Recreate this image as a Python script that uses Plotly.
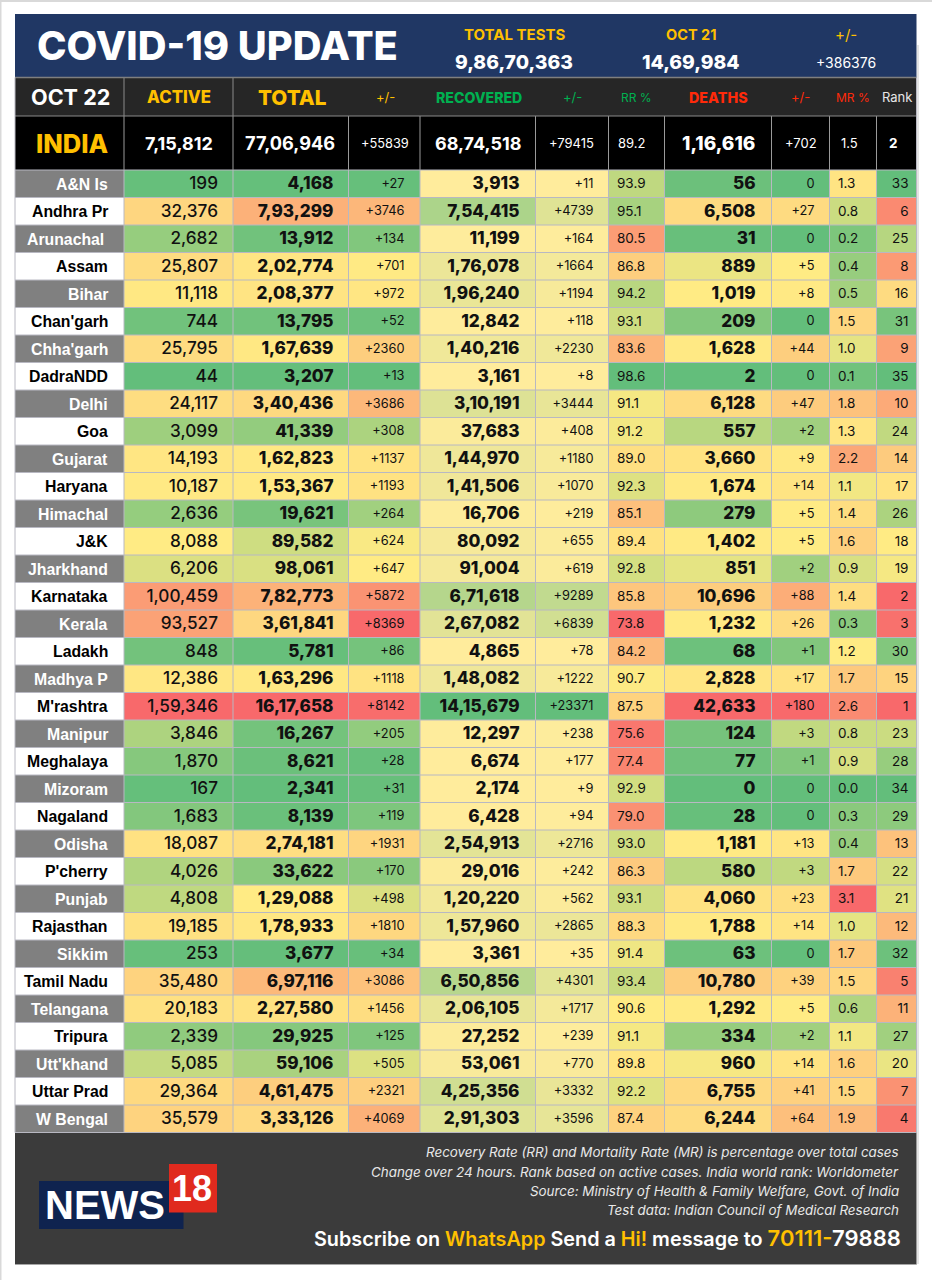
import plotly.graph_objects as go
import statistics as s

states = ["A&N Is", "Andhra Pr", "Arunachal", "Assam", "Bihar", "Chan'garh", "Chha'garh", "DadraNDD", "Delhi", "Goa",
          "Gujarat", "Haryana", "Himachal", "J&K", "Jharkhand", "Karnataka", "Kerala", "Ladakh", "Madhya P", "M'rashtra",
          "Manipur", "Meghalaya", "Mizoram", "Nagaland", "Odisha", "P'cherry", "Punjab", "Rajasthan", "Sikkim",
          "Tamil Nadu", "Telangana", "Tripura", "Utt'khand", "Uttar Prad", "W Bengal"]
active = [199, 32376, 2682, 25807, 11118, 744, 25795, 44, 24117, 3099, 14193, 10187, 2636, 8088, 6206, 100459, 93527, 848,
          12386, 159346, 3846, 1870, 167, 1683, 18087, 4026, 4808, 19185, 253, 35480, 20183, 2339, 5085, 29364, 35579]
total = [4168, 793299, 13912, 202774, 208377, 13795, 167639, 3207, 340436, 41339, 162823, 153367, 19621, 89582, 98061,
         782773, 361841, 5781, 163296, 1617658, 16267, 8621, 2341, 8139, 274181, 33622, 129088, 178933, 3677, 697116,
         227580, 29925, 59106, 461475, 333126]
total_chg = [27, 3746, 134, 701, 972, 52, 2360, 13, 3686, 308, 1137, 1193, 264, 624, 647, 5872, 8369, 86, 1118, 8142, 205,
             28, 31, 119, 1931, 170, 498, 1810, 34, 3086, 1456, 125, 505, 2321, 4069]
recovered = [3913, 754415, 11199, 176078, 196240, 12842, 140216, 3161, 310191, 37683, 144970, 141506, 16706, 80092, 91004,
             671618, 267082, 4865, 148082, 1415679, 12297, 6674, 2174, 6428, 254913, 29016, 120220, 157960, 3361, 650856,
             206105, 27252, 53061, 425356, 291303]
recovered_chg = [11, 4739, 164, 1664, 1194, 118, 2230, 8, 3444, 408, 1180, 1070, 219, 655, 619, 9289, 6839, 78, 1222, 23371,
                 238, 177, 9, 94, 2716, 242, 562, 2865, 35, 4301, 1717, 239, 770, 3332, 3596]
rr = [93.9, 95.1, 80.5, 86.8, 94.2, 93.1, 83.6, 98.6, 91.1, 91.2, 89.0, 92.3, 85.1, 89.4, 92.8, 85.8, 73.8, 84.2, 90.7, 87.5,
      75.6, 77.4, 92.9, 79.0, 93.0, 86.3, 93.1, 88.3, 91.4, 93.4, 90.6, 91.1, 89.8, 92.2, 87.4]
deaths = [56, 6508, 31, 889, 1019, 209, 1628, 2, 6128, 557, 3660, 1674, 279, 1402, 851, 10696, 1232, 68, 2828, 42633, 124,
          77, 0, 28, 1181, 580, 4060, 1788, 63, 10780, 1292, 334, 960, 6755, 6244]
deaths_chg = [0, 27, 0, 5, 8, 0, 44, 0, 47, 2, 9, 14, 5, 5, 2, 88, 26, 1, 17, 180, 3, 1, 0, 0, 13, 3, 23, 14, 0, 39, 5, 2,
              14, 41, 64]
mr = [1.3, 0.8, 0.2, 0.4, 0.5, 1.5, 1.0, 0.1, 1.8, 1.3, 2.2, 1.1, 1.4, 1.6, 0.9, 1.4, 0.3, 1.2, 1.7, 2.6, 0.8, 0.9, 0.0,
      0.3, 0.4, 1.7, 3.1, 1.0, 1.7, 1.5, 0.6, 1.1, 1.6, 1.5, 1.9]
rank = [33, 6, 25, 8, 16, 31, 9, 35, 10, 24, 14, 17, 26, 18, 19, 2, 3, 30, 15, 1, 23, 28, 34, 29, 13, 22, 21, 12, 32, 5, 11,
        27, 20, 7, 4]

india_row = ["7,15,812", "77,06,946", "+55839", "68,74,518", "+79415", "89.2", "1,16,616", "+702", "1.5", "2"]
tests_labels = ["TOTAL TESTS", "OCT 21", "+/-"]
tests_values = ["9,86,70,363", "14,69,984", "+386376"]
header_labels = ["ACTIVE", "TOTAL", "+/-", "RECOVERED", "+/-", "RR %", "DEATHS", "+/-", "MR %", "Rank"]
notes = ["Recovery Rate (RR) and Mortality Rate (MR) is percentage over total cases",
         "Change over 24 hours. Rank based on active cases. India world rank: Worldometer",
         "Source: Ministry of Health & Family Welfare, Govt. of India",
         "Test data: Indian Council of Medical Research"]

GREEN, YELLOW, RED = "#63BE7B", "#FFEB84", "#F8696B"
PALE = "#FFEC9C"
NUM_FONT = "Inter"
edges = [124, 233, 348.5, 420, 535.5, 608.5, 664.5, 771.5, 829.5, 876.5, 916.5]
LEFT, TOP, RIGHT = 15, 14, 916.5
HEAD1, HEAD2, HEAD3, BOTTOM, FOOT = 77.5, 116, 170, 1132.5, 1264.5
row_h = (BOTTOM - HEAD3) / len(states)
row_edges = [HEAD3 + i * row_h for i in range(len(states) + 1)]
row_mid = [HEAD3 + (i + 0.5) * row_h for i in range(len(states))]
text_y = [y + 1 for y in row_mid]


def lakh(n):
    t = str(n)
    if len(t) <= 3:
        return t
    head, tail = t[:-3], t[-3:]
    parts = []
    while len(head) > 2:
        parts.insert(0, head[-2:])
        head = head[:-2]
    if head:
        parts.insert(0, head)
    return ",".join(parts) + "," + tail


def plus(n):
    return "+" + str(n)


def zero_plus(n):
    return "0" if n == 0 else "+" + str(n)


def one(v):
    return "%.1f" % v


def plain(v):
    return str(v)


# values, formatter, scale kind, anchor x, text side, size, weight
columns = [
    (active, lakh, "hi_red", 218, "middle left", 17.2, 500),
    (total, lakh, "hi_red", 333.5, "middle left", 17.2, 800),
    (total_chg, plus, "hi_red", 404.5, "middle left", 12.8, 400),
    (recovered, lakh, "hi_green", 519.5, "middle left", 17.2, 800),
    (recovered_chg, plus, "hi_green", 593.5, "middle left", 12.8, 400),
    (rr, one, "lo_red", 617, "middle right", 13.5, 400),
    (deaths, lakh, "hi_red", 755.5, "middle left", 17.2, 800),
    (deaths_chg, zero_plus, "hi_red", 814.5, "middle left", 12.8, 400),
    (mr, one, "hi_red", 838, "middle right", 13.5, 400),
    (rank, plain, "rank", 908.5, "middle left", 13.5, 400),
]

fig = go.Figure()

for i, col in enumerate(columns):
    vals, fmt, kind = col[0], col[1], col[2]
    lo, hi = min(vals), max(vals)
    if kind == "rank":
        # the ends of the rank scale sit just inside the extremes
        lo, hi = 2, 33
    mid = (s.median(vals) - lo) / (hi - lo)
    if kind == "hi_red":
        scale = [[0, GREEN], [mid, YELLOW], [1, RED]]
    elif kind in ("lo_red", "rank"):
        scale = [[0, RED], [mid, YELLOW], [1, GREEN]]
    else:
        scale = [[0, PALE], [1, GREEN]]
    fig.add_trace(go.Heatmap(z=[[v] for v in vals], x=[edges[i], edges[i + 1]], y=row_edges, colorscale=scale,
                             zmin=lo, zmax=hi, showscale=False, hoverinfo="skip"))

for col in columns:
    vals, fmt, x, side, size, weight = col[0], col[1], col[3], col[4], col[5], col[6]
    fig.add_trace(go.Scatter(x=[x] * len(vals), y=text_y, mode="text", text=[fmt(v) for v in vals], textposition=side,
                             textfont=dict(family=NUM_FONT, size=size, color="#111111", weight=weight),
                             hoverinfo="skip", showlegend=False))

shapes = []


def box(x0, y0, x1, y1, color):
    shapes.append(dict(type="rect", x0=x0, y0=y0, x1=x1, y1=y1, fillcolor=color, line_width=0, layer="below"))


def rule(x0, y0, x1, y1, color, w=1):
    shapes.append(dict(type="line", x0=x0, y0=y0, x1=x1, y1=y1, line=dict(color=color, width=w), layer="above"))


# page edge
box(0, 0, 932, 2, "#D9D9D9")
box(0, 0, 1.5, 1280, "#D9D9D9")
box(917, 45, 919, 1264, "#E4E4E4")

# header bands
box(LEFT, TOP, RIGHT, HEAD1, "#203764")
box(LEFT, HEAD1, RIGHT, HEAD2, "#262626")
box(LEFT, HEAD2, RIGHT, HEAD3, "#000000")
box(LEFT, BOTTOM, RIGHT, FOOT, "#3B3B3B")

# state label column
for i in range(len(states)):
    box(LEFT, row_edges[i], edges[0], row_edges[i + 1], "#808080" if i % 2 == 0 else "#FFFFFF")

# grid
GRID = "#B8B8C2"
for y in row_edges:
    rule(LEFT, y, RIGHT, y, GRID)
for x in edges[:-1]:
    rule(x, HEAD3, x, BOTTOM, GRID)
    rule(x, HEAD2, x, HEAD3, "#9A9A9A")
rule(edges[0], HEAD1, edges[0], HEAD2, "#8A8A8A")
rule(edges[1], HEAD1, edges[1], HEAD2, "#8A8A8A")
rule(LEFT, HEAD1, RIGHT, HEAD1, "#7F7F7F", 1.5)
rule(LEFT, HEAD2, RIGHT, HEAD2, "#8A8A8A", 1)
rule(RIGHT, HEAD1, RIGHT, BOTTOM, GRID)
rule(LEFT, HEAD1, LEFT, BOTTOM, GRID)
rule(LEFT, FOOT, RIGHT, FOOT, "#A6A6A6", 1)

# logo
box(39, 1181, 183.5, 1229, "#0F234F")
box(169, 1164, 217, 1212.5, "#E02A1E")

anns = []


def label(x, y, text, size, color, anchor="center", weight=400, family=NUM_FONT, italic=False):
    anns.append(dict(x=x, y=y, xref="x", yref="y", text=text, showarrow=False, xanchor=anchor, yanchor="middle",
                     font=dict(family=family, size=size, color=color, weight=weight,
                               style="italic" if italic else "normal")))


GOLD = "#FFC000"
GRN = "#00B050"
REDH = "#FF2A0A"
label(217, 45, "COVID-19 UPDATE", 39.8, "#FFFFFF", weight=800)
for x, t, v, ls, sz, w in zip([514, 691, 845.5], tests_labels, tests_values, [15, 14.5, 15], [19.3, 19.3, 14], [800, 800, 400]):
    label(x, 34, t, ls, GOLD, weight=700 if t != "+/-" else 400)
    label(x, 62, v, sz, "#FFFFFF", weight=w)

label(70.5, 97, "OCT 22", 21.6, "#FFFFFF", weight=700)
head_x = [178.5, 292, 385, 478.5, 572, 636.5, 718.5, 800, 852.5, 897]
head_colors = [GOLD, GOLD, GOLD, GRN, GRN, GRN, REDH, REDH, REDH, "#E6E6E6"]
head_sizes = [16.8, 20.7, 13, 14.1, 13, 12, 14.3, 13, 12, 13]
head_weights = [800, 800, 400, 800, 400, 400, 800, 400, 400, 400]
for x, t, c, sz, w in zip(head_x, header_labels, head_colors, head_sizes, head_weights):
    label(x, 97, t, sz, c, weight=w)

label(72.5, 143, "INDIA", 25.5, GOLD, weight=800)
india_x = [179, 290, 384.5, 477.5, 571, 631.5, 718.5, 801, 849.5, 893.5]
india_sizes = [18, 18.2, 12.8, 18, 13, 13, 19, 13, 13, 13.5]
india_weights = [700, 700, 400, 700, 400, 400, 800, 400, 400, 700]
for x, t, sz, w in zip(india_x, india_row, india_sizes, india_weights):
    label(x, 143, t, sz, "#FFFFFF", weight=w)

for i, st in enumerate(states):
    # Arunachal sits a little left of the others in the source
    label(106 if st == "Arunachal" else 110, row_mid[i] + 0.5, st, 15.8, "#FFFFFF" if i % 2 == 0 else "#000000",
          anchor="right", weight=700, family="Liberation Sans")

for y, t in zip([1152, 1172, 1191, 1210], notes):
    label(900.5, y, t, 13.4, "#E8E8E8", anchor="right", italic=True)
label(903, 1238, 'Subscribe on <span style="color:#FFC000">WhatsApp</span> Send a '
      '<span style="color:#FFC000">Hi!</span> message to '
      '<span style="color:#FFC000;font-size:22px">70111-</span><span style="font-size:22px">79888</span>',
      19.8, "#FFFFFF", anchor="right", weight=600)
label(105, 1205, "NEWS", 40, "#FFFFFF", weight=700, family="Liberation Sans")
label(192, 1188, "18", 36, "#FFFFFF", weight=700, family="Liberation Sans")

fig.update_layout(width=932, height=1280, margin=dict(l=0, r=0, t=0, b=0), paper_bgcolor="#FFFFFF", plot_bgcolor="#FFFFFF",
                  showlegend=False, shapes=shapes, annotations=anns,
                  xaxis=dict(range=[0, 932], visible=False, fixedrange=True),
                  yaxis=dict(range=[1280, 0], visible=False, fixedrange=True))

fig.write_html("out.html", config=dict(displayModeBar=False),
               post_script="document.body.style.margin='0';document.body.style.overflow='hidden';")
